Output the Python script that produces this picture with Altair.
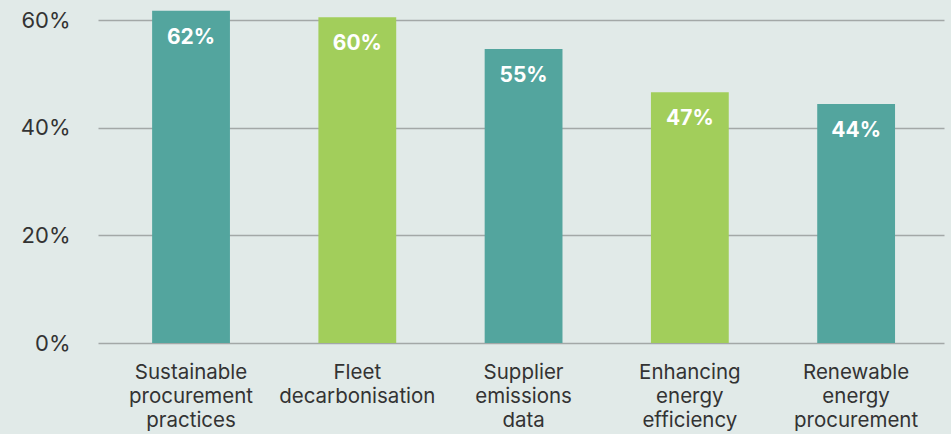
import altair as alt
import pandas as pd

categories = [
    "Sustainable|procurement|practices",
    "Fleet|decarbonisation",
    "Supplier|emissions|data",
    "Enhancing|energy|efficiency",
    "Renewable|energy|procurement",
]
values = [61.7, 60.5, 54.6, 46.6, 44.4]
labels = ["62%", "60%", "55%", "47%", "44%"]
groups = ["teal", "green", "teal", "green", "teal"]
y_ticks = [0, 20, 40, 60]

df = pd.DataFrame({"cat": categories, "val": values, "lab": labels, "grp": groups})

FONT = "Inter"

x = alt.X(
    "cat:N",
    sort=categories,
    title=None,
    scale=alt.Scale(paddingInner=0.532, paddingOuter=0.31, align=0.525),
    axis=alt.Axis(
        labelExpr="split(datum.label, '|')",
        labelAngle=0,
        labelFont=FONT,
        labelFontSize=20.5,
        labelColor="#333333",
        labelBaseline="top",
        labelPadding=19,
        labelLineHeight=24,
        ticks=False,
        domain=False,
        grid=False,
    ),
)

bars = alt.Chart(df).mark_bar().encode(
    x=x,
    y=alt.Y(
        "val:Q",
        title=None,
        scale=alt.Scale(domain=[0, 60], nice=False),
        axis=alt.Axis(
            values=y_ticks,
            labelExpr="datum.value + '%'",
            labelFont=FONT,
            labelFontSize=22,
            labelColor="#333333",
            labelPadding=28,
            ticks=False,
            domain=False,
            grid=True,
            gridColor="#a3a8a7",
            gridWidth=1.5,
        ),
    ),
    color=alt.Color(
        "grp:N",
        scale=alt.Scale(domain=["teal", "green"], range=["#53a59e", "#a2ce5b"]),
        legend=None,
    ),
)

text = alt.Chart(df).mark_text(
    color="white",
    font=FONT,
    fontSize=21,
    fontWeight="bold",
    baseline="middle",
    dy=27,
).encode(
    x=alt.X("cat:N", sort=categories),
    y=alt.Y("val:Q"),
    text="lab:N",
)

chart = (
    alt.layer(bars, text)
    .properties(
        width=846,
        height=323,
        background="#e1eae8",
        padding={"left": 98, "top": 20, "right": 7, "bottom": 91},
        autosize=alt.AutoSizeParams(type="none"),
    )
    .configure_view(stroke=None)
)

chart.save("out.html", embed_options={"renderer": "svg", "actions": False})
